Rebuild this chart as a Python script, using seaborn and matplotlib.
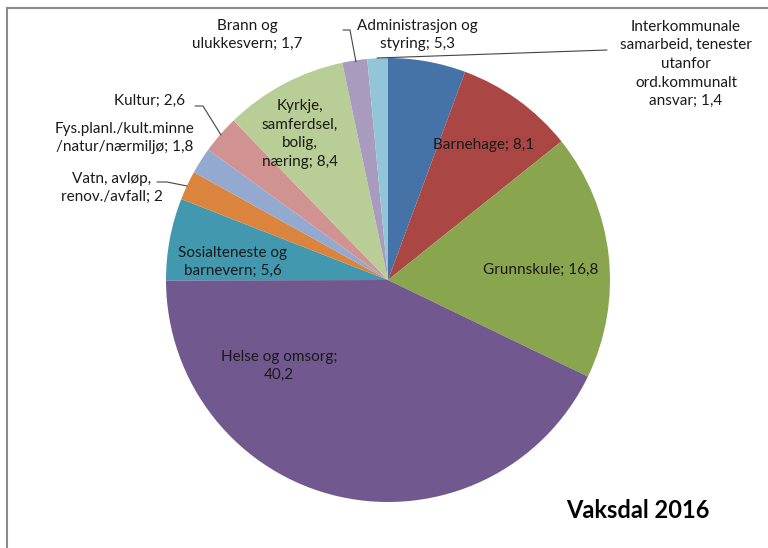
import matplotlib.pyplot as plt
import seaborn as sns
from matplotlib.lines import Line2D

# Data (Vaksdal 2016, share of spending per sector)
categories = [
    "Administrasjon og\nstyring",
    "Barnehage",
    "Grunnskule",
    "Helse og omsorg;\n",
    "Sosialteneste og\nbarnevern",
    "Vatn, avløp,\nrenov./avfall",
    "Fys.planl./kult.minne\n/natur/nærmiljø",
    "Kultur",
    "Kyrkje,\nsamferdsel,\nbolig,\nnæring",
    "Brann og\nulukkesvern",
    "Interkommunale\nsamarbeid, tenester\nutanfor\nord.kommunalt\nansvar",
]
values = [5.3, 8.1, 16.8, 40.2, 5.6, 2, 1.8, 2.6, 8.4, 1.7, 1.4]
colors = ["#4572A7", "#AA4643", "#89A54E", "#71588F", "#4198AF", "#DB843D",
          "#93A9CF", "#D19392", "#B9CD96", "#A99BBD", "#92C5D8"]

# label centres in pixel coords (layout only)
label_pos = [(417, 35), (484, 145), (541, 270), (279, 366), (233, 262),
             (112, 188), (125, 138), (150, 101), (300, 134), (247, 35), (686, 64)]

# leader lines (pixel coords)
leaders = [
    [(343, 30), (350, 30), (356, 62)],     # Brann
    [(195, 106), (203, 106), (221, 135)],  # Kultur
    [(157, 182), (167, 182), (187, 186)],  # Vatn
    [(607, 50), (377, 58)],                # Interkommunale
]

sns.set_theme(style="white")
plt.rcParams['font.family'] = ['Lato', 'DejaVu Sans']

W, H = 768, 548
fig = plt.figure(figsize=(W / 100, H / 100), dpi=100)
ax = fig.add_axes([0, 0, 1, 1])

ax.pie(values, colors=sns.color_palette(colors), startangle=90, counterclock=False,
       center=(388, H - 280), radius=222, wedgeprops=dict(linewidth=0))
ax.set_xlim(0, W)
ax.set_ylim(0, H)
ax.set_aspect('equal')
ax.axis('off')

for name, v, (x, y) in zip(categories, values, label_pos):
    sep = "" if name.endswith("\n") else "; "
    txt = name + sep + f"{v:g}".replace(".", ",")
    ax.text(x, H - y, txt, ha="center", va="center", fontsize=11,
            color="#1a1a1a", linespacing=1.42)

for pts in leaders:
    xs = [p[0] for p in pts]
    ys = [H - p[1] for p in pts]
    ax.plot(xs, ys, color="#444444", lw=0.8)

ax.text(638, H - 511, "Vaksdal 2016", ha="center", va="center",
        fontsize=17, fontweight="bold", color="black")

# chart frame (left and top edges visible)
fig.add_artist(Line2D([7 / W, 7 / W], [0, 1 - 8 / H], color="#8c8c8c", lw=1.5))
fig.add_artist(Line2D([7 / W, 1], [1 - 8 / H, 1 - 8 / H], color="#8c8c8c", lw=1.5))

fig.savefig("out.png", dpi=100)
